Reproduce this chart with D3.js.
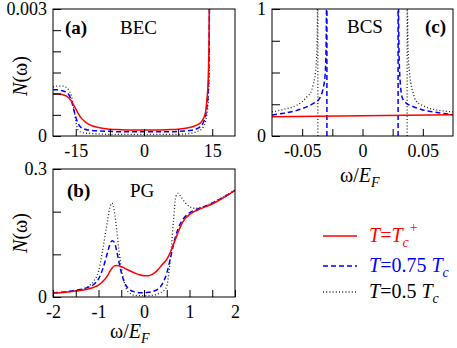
<!doctype html>
<html>
<head>
<meta charset="utf-8">
<script src="https://d3js.org/d3.v7.min.js"></script>
</head>
<body style="margin:0; background:#fff">
<svg width="457" height="348" id="chart" style="font-family: 'Liberation Serif'"></svg>
<script>
// ---- data ----
// (a) BEC
var becW = [-20, -19, -18, -17, -16.5, -16, -15.5, -15, -14.5, -14, -13, -12, -10, -7.5, -5, 0, 5, 7.5, 10, 11, 12, 12.5, 13, 13.5, 13.8, 14.1, 14.3, 14.45];
var becTc = [0.00100, 0.00100, 0.00098, 0.00094, 0.00090, 0.00083, 0.00074, 0.00064, 0.00054, 0.00045, 0.00034, 0.00027, 0.00020, 0.00016, 0.00015, 0.00014, 0.00015, 0.00016, 0.00020, 0.00023, 0.00028, 0.00032, 0.00040, 0.00055, 0.00084, 0.0013, 0.0024, 0.0045];
var becT75 = [0.00109, 0.00109, 0.00107, 0.00103, 0.00097, 0.00085, 0.00065, 0.00045, 0.00030, 0.00022, 0.00016, 0.00014, 0.00012, 0.00011, 0.00010, 0.00010, 0.00010, 0.00011, 0.00013, 0.00015, 0.00019, 0.00023, 0.00031, 0.00046, 0.00066, 0.0010, 0.0019, 0.0045];
var becT50 = [0.00116, 0.00118, 0.00118, 0.00114, 0.00108, 0.00096, 0.00070, 0.00035, 0.00014, 0.00010, 0.00007, 0.00006, 0.00005, 0.00004, 0.00004, 0.00004, 0.00004, 0.00004, 0.00006, 0.00008, 0.00012, 0.00015, 0.00021, 0.00034, 0.00050, 0.0008, 0.0014, 0.0045];

// (b) PG
var pgW = [-2, -1.75, -1.5, -1.25, -1.1, -1, -0.9, -0.8, -0.75, -0.7, -0.65, -0.6, -0.55, -0.5, -0.45, -0.4, -0.3, -0.2, -0.1, 0, 0.1, 0.2, 0.3, 0.4, 0.5, 0.55, 0.6, 0.65, 0.7, 0.75, 0.8, 0.9, 1, 1.1, 1.25, 1.5, 1.75, 2];
var pgTc = [0.009, 0.011, 0.014, 0.018, 0.023, 0.028, 0.037, 0.050, 0.060, 0.068, 0.073, 0.074, 0.073, 0.071, 0.069, 0.066, 0.061, 0.056, 0.052, 0.050, 0.050, 0.054, 0.063, 0.076, 0.088, 0.098, 0.110, 0.124, 0.138, 0.152, 0.165, 0.183, 0.193, 0.200, 0.207, 0.218, 0.233, 0.250];
var pgT75 = [0.010, 0.012, 0.016, 0.022, 0.030, 0.042, 0.068, 0.105, 0.123, 0.132, 0.128, 0.108, 0.082, 0.058, 0.040, 0.028, 0.016, 0.012, 0.010, 0.010, 0.011, 0.013, 0.018, 0.030, 0.056, 0.077, 0.100, 0.124, 0.144, 0.160, 0.172, 0.188, 0.197, 0.203, 0.209, 0.220, 0.234, 0.250];
var pgT50 = [0.009, 0.011, 0.015, 0.023, 0.038, 0.060, 0.115, 0.180, 0.210, 0.220, 0.200, 0.158, 0.108, 0.070, 0.042, 0.022, 0.008, 0.004, 0.003, 0.003, 0.003, 0.004, 0.007, 0.012, 0.025, 0.060, 0.115, 0.180, 0.235, 0.243, 0.237, 0.222, 0.212, 0.208, 0.210, 0.221, 0.235, 0.250];

// (c) BCS
var bcsW = [-0.075, 0, 0.075];
var bcsTc = [0.152, 0.160, 0.168];
var bcsGap75 = 0.0295, bcsGap50 = 0.037;
var bcsT75LeftW = [-0.075, -0.065, -0.055, -0.05, -0.045, -0.04, -0.036, -0.033, -0.031, -0.0302, -0.0297];
var bcsT75Left = [0.165, 0.180, 0.200, 0.215, 0.235, 0.260, 0.290, 0.360, 0.480, 0.700, 1.200];
var bcsT75RightW = [0.0297, 0.0302, 0.031, 0.033, 0.036, 0.04, 0.045, 0.05, 0.055, 0.065, 0.075];
var bcsT75Right = [1.200, 0.700, 0.460, 0.300, 0.260, 0.240, 0.220, 0.205, 0.195, 0.180, 0.168];
var bcsT50LeftW = [-0.075, -0.065, -0.055, -0.05, -0.045, -0.043, -0.041, -0.039, -0.038, -0.0375, -0.0371];
var bcsT50Left = [0.190, 0.210, 0.240, 0.270, 0.320, 0.340, 0.400, 0.500, 0.620, 0.810, 1.200];
var bcsT50RightW = [0.0371, 0.0375, 0.038, 0.039, 0.04, 0.042, 0.044, 0.05, 0.055, 0.065, 0.075];
var bcsT50Right = [1.200, 0.800, 0.620, 0.500, 0.420, 0.340, 0.280, 0.240, 0.220, 0.200, 0.190];

var styles = {
    tc:  { stroke: "#ff0000", width: 1.5, dash: null },
    t75: { stroke: "#0000ff", width: 1.5, dash: "5,3" },
    t50: { stroke: "#222", width: 1.3, dash: "1,2.2" }
};

function zip(xs, ys) { return xs.map(function(x, i) { return [x, ys[i]]; }); }

var svg = d3.select("#chart");

function panel(p) {
    var x = d3.scaleLinear().domain(p.xDomain).range([p.left, p.right]);
    var y = d3.scaleLinear().domain(p.yDomain).range([p.bottom, p.top]);

    svg.append("clipPath").attr("id", p.id)
       .append("rect")
       .attr("x", p.left).attr("y", p.top)
       .attr("width", p.right - p.left).attr("height", p.bottom - p.top);

    var line = d3.line()
        .x(function(d) { return x(d[0]); })
        .y(function(d) { return y(d[1]); })
        .curve(d3.curveMonotoneX);
    var straight = d3.line()
        .x(function(d) { return x(d[0]); })
        .y(function(d) { return y(d[1]); });

    var g = svg.append("g").attr("clip-path", "url(#" + p.id + ")");
    p.series.forEach(function(s) {
        var st = styles[s.style];
        g.append("path")
         .attr("d", s.straight ? straight(s.data) : line(s.data))
         .attr("fill", "none")
         .attr("stroke", st.stroke)
         .attr("stroke-width", st.width)
         .attr("stroke-dasharray", st.dash);
    });

    // axes with inward ticks
    svg.append("g")
       .attr("transform", "translate(0," + p.bottom + ")")
       .call(d3.axisBottom(x).tickValues(p.xTicks).tickSizeInner(-7).tickSizeOuter(0).tickPadding(8)
            .tickFormat(function(d) { return p.xLabels[d] !== undefined ? p.xLabels[d] : ""; }))
       .call(function(a) {
           a.attr("font-family", null).attr("font-size", null);
           a.select(".domain").remove();
           a.selectAll("text").attr("font-size", 18).attr("fill", "#000");
       });

    svg.append("g")
       .attr("transform", "translate(" + p.left + ",0)")
       .call(d3.axisLeft(y).tickValues(p.yTicks).tickSizeInner(-8).tickSizeOuter(0).tickPadding(6)
            .tickFormat(function(d) { return p.yLabels[d] !== undefined ? p.yLabels[d] : ""; }))
       .call(function(a) {
           a.attr("font-family", null).attr("font-size", null);
           a.select(".domain").remove();
           a.selectAll("text").attr("font-size", 18).attr("fill", "#000");
       });

    svg.append("rect")
       .attr("x", p.left).attr("y", p.top)
       .attr("width", p.right - p.left).attr("height", p.bottom - p.top)
       .attr("fill", "none").attr("stroke", "#000").attr("stroke-width", 1);
}

// (a) BEC
panel({
    id: "clipA", left: 53, right: 235, top: 9, bottom: 136,
    xDomain: [-20, 20], yDomain: [0, 0.003],
    xTicks: [-15, -7.5, 0, 7.5, 15], xLabels: { "-15": "-15", "0": "0", "15": "15" },
    yTicks: [0, 0.0005, 0.001, 0.0015, 0.002, 0.0025, 0.003], yLabels: { "0": "0", "0.003": "0.003" },
    series: [
        { data: zip(becW, becT50), style: "t50" },
        { data: zip(becW, becT75), style: "t75" },
        { data: zip(becW, becTc), style: "tc" }
    ]
});

// (b) PG
panel({
    id: "clipB", left: 53, right: 235, top: 169, bottom: 297,
    xDomain: [-2, 2], yDomain: [0, 0.3],
    xTicks: [-2, -1.5, -1, -0.5, 0, 0.5, 1, 1.5, 2], xLabels: { "-2": "-2", "-1": "-1", "0": "0", "1": "1", "2": "2" },
    yTicks: [0, 0.1, 0.2, 0.3], yLabels: { "0": "0", "0.3": "0.3" },
    series: [
        { data: zip(pgW, pgT50), style: "t50" },
        { data: zip(pgW, pgT75), style: "t75" },
        { data: zip(pgW, pgTc), style: "tc" }
    ]
});

// (c) BCS
panel({
    id: "clipC", left: 272, right: 453, top: 9, bottom: 136,
    xDomain: [-0.075, 0.075], yDomain: [0, 1],
    xTicks: [-0.05, -0.025, 0, 0.025, 0.05], xLabels: { "-0.05": "-0.05", "0": "0", "0.05": "0.05" },
    yTicks: [0, 0.25, 0.5, 0.75, 1], yLabels: { "0": "0", "1": "1" },
    series: [
        { data: zip(bcsT50LeftW, bcsT50Left), style: "t50" },
        { data: zip(bcsT50RightW, bcsT50Right), style: "t50" },
        { data: [[-bcsGap50, 0], [-bcsGap50, 1.2]], style: "t50", straight: true },
        { data: [[bcsGap50, 0], [bcsGap50, 1.2]], style: "t50", straight: true },
        { data: zip(bcsT75LeftW, bcsT75Left), style: "t75" },
        { data: zip(bcsT75RightW, bcsT75Right), style: "t75" },
        { data: [[-bcsGap75, 0], [-bcsGap75, 1.2]], style: "t75", straight: true },
        { data: [[bcsGap75, 0], [bcsGap75, 1.2]], style: "t75", straight: true },
        { data: zip(bcsW, bcsTc), style: "tc" }
    ]
});

// panel labels
function label(x, y, txt, bold) {
    svg.append("text").attr("x", x).attr("y", y)
       .attr("font-size", 19)
       .attr("font-weight", bold ? "bold" : "normal")
       .text(txt);
}
label(65, 34, "(a)", true);
label(120, 34, "BEC", false);
label(67, 197, "(b)", true);
label(130, 197, "PG", false);
label(347, 33, "BCS", false);
label(425, 33, "(c)", true);

// y axis titles
function yTitle(cy) {
    var t = svg.append("text")
       .attr("transform", "translate(27," + cy + ") rotate(-90)")
       .attr("text-anchor", "middle")
       .attr("font-size", 20);
    t.append("tspan").attr("font-style", "italic").text("N");
    t.append("tspan").text("(ω)");
}
yTitle(76);
yTitle(233);

// x axis titles
function xTitle(x0, yb) {
    var t = svg.append("text").attr("x", x0).attr("y", yb).attr("font-size", 20);
    t.append("tspan").text("ω/");
    t.append("tspan").attr("font-style", "italic").text("E");
    t.append("tspan").attr("font-style", "italic").attr("font-size", 14).attr("dy", 5).text("F");
}
xTitle(110, 338);
xTitle(340, 182);

// legend
var legend = [
    { style: "tc", y: 236, color: "#ff0000", value: null },
    { style: "t75", y: 266, color: "#0000ff", value: "0.75" },
    { style: "t50", y: 292, color: "#000", value: "0.5" }
];
legend.forEach(function(l) {
    var st = styles[l.style];
    svg.append("line").attr("x1", 323).attr("x2", 357).attr("y1", l.y).attr("y2", l.y)
       .attr("stroke", st.stroke).attr("stroke-width", st.width).attr("stroke-dasharray", st.dash);
    var t = svg.append("text").attr("x", 369).attr("y", l.y + 6)
       .attr("font-size", 20).attr("fill", l.color);
    t.append("tspan").attr("font-style", "italic").text("T");
    t.append("tspan").text("=");
    if (l.value === null) {
        t.append("tspan").attr("font-style", "italic").text("T");
        t.append("tspan").attr("font-style", "italic").attr("font-size", 14).attr("dy", 5).text("c");
        t.append("tspan").attr("font-size", 14).attr("dy", -15).attr("dx", 1).text("+");
    } else {
        t.append("tspan").text(l.value + " ");
        t.append("tspan").attr("font-style", "italic").text("T");
        t.append("tspan").attr("font-style", "italic").attr("font-size", 14).attr("dy", 5).text("c");
    }
});

// make sure every text uses the Times-like face
svg.selectAll("text").style("font-family", "'Liberation Serif'");
</script>
</body>
</html>
